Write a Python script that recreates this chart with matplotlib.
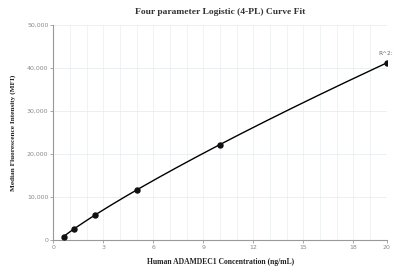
import numpy as np
import matplotlib
matplotlib.use("Agg")
import matplotlib.pyplot as plt

# standards
conc = [0.625, 1.25, 2.5, 5, 10, 20]
mfi = [800, 2600, 5900, 11600, 22200, 41200]
x_ticks = [0, 3, 6, 9, 12, 15, 18, 20]
y_ticks = [0, 10000, 20000, 30000, 40000, 50000]


def fit_4pl(x, y):
    # grid over slope B and midpoint C, A and D by linear least squares
    x = np.asarray(x, float)
    y = np.asarray(y, float)
    best = None
    for b in np.linspace(0.5, 2.0, 61):
        for c in np.logspace(0, 4, 200):
            basis = 1.0 / (1.0 + (x / c) ** b)
            m = np.column_stack([np.ones_like(x), basis])
            coef, *_ = np.linalg.lstsq(m, y, rcond=None)
            err = np.sum((m @ coef - y) ** 2)
            if best is None or err < best[0]:
                best = (err, b, c, coef)
    _, b, c, (d, ad) = best
    return lambda t: d + ad / (1.0 + (t / c) ** b)


curve = fit_4pl(conc, mfi)
xs = np.linspace(min(conc), max(conc), 300)

fig = plt.figure(figsize=(3.93, 2.71), dpi=100)
ax = fig.add_axes([0.1357, 0.1144, 0.8486, 0.7933])

ax.plot(xs, curve(xs), color='black', lw=1.0, zorder=3)
ax.plot(conc, mfi, 'o', color='#111111', ms=3.6, zorder=4)
ax.annotate('R^2:', (conc[-1], mfi[-1]), xytext=(-1, 5), textcoords='offset points',
            ha='center', va='bottom', fontsize=4.2, color='#666666')

ax.set_xlim(0, 20)
ax.set_ylim(0, 50000)
ax.set_xticks(x_ticks)
ax.set_xticks(np.arange(0, 21, 1), minor=True)
ax.set_yticks(y_ticks)
ax.set_yticklabels(['{:,}'.format(v) for v in y_ticks])

ax.grid(True, which='both', axis='x', color='#eef1f3', lw=0.6)
ax.grid(True, which='major', axis='y', color='#e6ecef', lw=0.6)
ax.set_axisbelow(True)

for s in ['top', 'right']:
    ax.spines[s].set_visible(False)
for s in ['left', 'bottom']:
    ax.spines[s].set_color('#999999')
    ax.spines[s].set_linewidth(0.8)

ax.tick_params(axis='both', which='major', labelsize=4.5, labelcolor='#8a8a8a',
               color='#999999', length=2, width=0.6, pad=1.5)
ax.tick_params(axis='both', which='minor', length=0)

ax.set_title('Four parameter Logistic (4-PL) Curve Fit', fontsize=6.8,
             fontweight='bold', family='Liberation Serif', color='#333333', pad=8)
ax.set_xlabel('Human ADAMDEC1 Concentration (ng/mL)', fontsize=5.5,
              fontweight='bold', family='Liberation Serif', color='#222222', labelpad=6)
ax.set_ylabel('Median Fluorescence Intensity (MFI)', fontsize=5.2,
              fontweight='bold', family='Liberation Serif', color='#222222', labelpad=8)

fig.savefig('out.png', dpi=100)
